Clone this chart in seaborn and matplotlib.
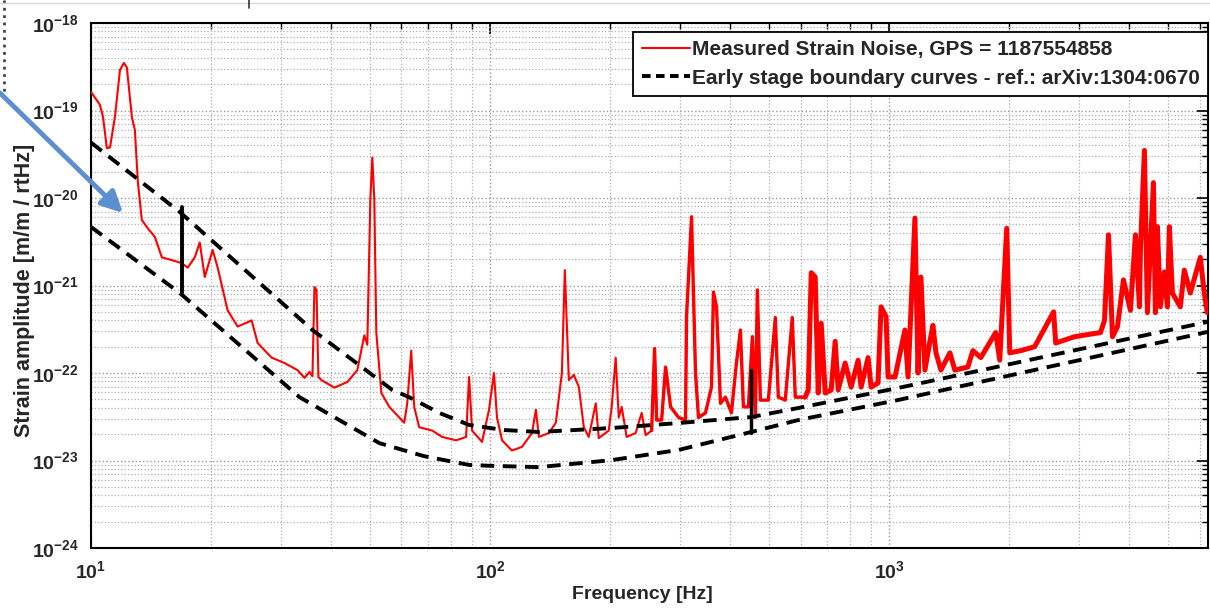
import numpy as np
import pandas as pd
import matplotlib
matplotlib.use("Agg")
import matplotlib.pyplot as plt
from matplotlib.lines import Line2D
from matplotlib.ticker import LogLocator, FixedLocator, FixedFormatter, NullFormatter
import seaborn as sns

# measured strain noise (Hz, strain/rtHz)
noise_freq = [
    10.0, 10.53, 10.72, 10.96, 11.16, 11.48, 11.82, 12.09, 12.30, 12.66,
    12.88, 13.11, 13.41, 13.88, 14.45, 15.05, 15.94, 16.89, 17.48, 18.20,
    18.73, 19.28, 20.18, 20.77, 22.00, 23.31, 24.69, 25.26, 26.16, 28.35,
    30.55, 32.92, 34.28, 35.28, 35.89, 36.31, 36.73, 37.15, 37.80, 40.74,
    43.90, 46.50, 48.42, 49.26, 50.12, 50.70, 51.29, 51.88, 53.42, 55.93,
    59.23, 60.95, 62.02, 63.46, 64.57, 66.45, 71.61, 75.86, 82.22, 87.10,
    88.62, 90.16, 95.50, 99.42, 102.3, 104.1, 107.2, 113.5, 120.2, 127.4,
    130.3, 132.6, 140.4, 146.2, 151.4, 154.0, 157.6, 162.2, 167.0, 171.8,
    176.8, 184.1, 187.3, 198.4, 201.8, 206.5, 210.2, 213.8, 220.0, 231.7,
    239.9, 245.5, 254.1, 258.5, 261.6, 269.2, 275.4, 283.5, 296.9, 309.0,
    310.8, 319.9, 327.3, 333.0, 346.7, 358.9, 363.1, 369.5, 378.1, 389.0,
    402.7, 414.5, 424.2, 431.5, 444.1, 454.5, 462.4, 467.7, 476.0, 498.4,
    518.8, 527.8, 549.5, 572.1, 582.1, 616.6, 627.3, 638.3, 653.1, 664.5,
    676.1, 691.8, 716.1, 732.8, 745.6, 776.2, 803.5, 836.6, 851.1, 886.1,
    901.6, 938.5, 955.0, 983.0, 994.3, 1035, 1096, 1116, 1161, 1182,
    1202, 1230, 1266, 1288, 1311, 1349, 1421, 1462, 1576, 1622,
    1698, 1851, 1894, 1972, 2007, 2138, 2317, 2585, 2616, 2917,
    3388, 3467, 3548, 3631, 3737, 3868, 4027, 4145, 4242, 4266,
    4365, 4441, 4598, 4651, 4705, 4786, 4898, 4983, 5041, 5129,
    5370, 5495, 5689, 6026, 6166, 6273,
]
noise_amp = [
    1.63e-19, 1.16e-19, 8.4e-20, 3.7e-20, 3.8e-20, 8.4e-20, 2.9e-19, 3.5e-19, 3.1e-19, 8.4e-20,
    6.0e-20, 1.5e-20, 5.6e-21, 4.5e-21, 3.6e-21, 2.1e-21, 1.95e-21, 1.8e-21, 1.6e-21, 2.1e-21,
    3.1e-21, 1.25e-21, 2.55e-21, 1.6e-21, 5.2e-22, 3.4e-22, 3.8e-22, 4.0e-22, 2.2e-22, 1.5e-22,
    1.3e-22, 1.08e-22, 8.8e-23, 1.03e-22, 9.2e-23, 9.6e-22, 8.9e-22, 9.0e-23, 8.3e-23, 6.8e-23,
    7.9e-23, 1.08e-22, 2.7e-22, 2.1e-22, 9.5e-21, 2.9e-20, 9.5e-21, 2.9e-22, 5.9e-23, 4.1e-23,
    3.1e-23, 2.7e-23, 4.5e-23, 1.8e-22, 4.1e-23, 2.4e-23, 2.2e-23, 1.86e-23, 1.7e-23, 1.86e-23,
    9.0e-23, 2.2e-23, 1.63e-23, 3.8e-23, 1.0e-22, 3.1e-23, 1.7e-23, 1.3e-23, 1.43e-23, 2.06e-23,
    3.8e-23, 1.86e-23, 2.06e-23, 2.7e-23, 1.0e-22, 1.5e-21, 8.3e-23, 9.5e-23, 6.9e-23, 2.4e-23,
    1.86e-23, 4.5e-23, 1.8e-23, 2.2e-23, 4.1e-23, 1.5e-22, 3.1e-23, 4.1e-23, 1.86e-23, 2.06e-23,
    3.5e-23, 1.95e-23, 2.2e-23, 1.9e-22, 2.9e-23, 2.9e-23, 1.17e-22, 4.1e-23, 3.1e-23, 2.9e-23,
    4.4e-22, 6.1e-21, 1.0e-22, 3.1e-23, 3.5e-23, 6.9e-23, 8.4e-22, 5.7e-22, 4.5e-23, 5.3e-23,
    3.5e-23, 1.3e-22, 3.1e-22, 4.1e-23, 4.1e-23, 2.6e-22, 3.1e-23, 8.9e-22, 4.9e-23, 4.9e-23,
    4.3e-22, 5.3e-23, 4.9e-23, 4.3e-22, 5.3e-23, 5.3e-23, 6.4e-23, 1.4e-21, 1.25e-21, 5.9e-23,
    3.7e-22, 5.9e-23, 6.4e-23, 2.3e-22, 6.4e-23, 1.3e-22, 6.9e-23, 1.4e-22, 6.9e-23, 1.5e-22,
    6.9e-23, 7.7e-23, 5.7e-22, 4.4e-22, 9.0e-23, 9.0e-23, 3.1e-22, 9.0e-23, 5.9e-21, 1.0e-22,
    1.25e-21, 1.08e-22, 2.3e-22, 3.5e-22, 1.7e-22, 1.08e-22, 1.7e-22, 1.08e-22, 1.17e-22, 1.8e-22,
    1.5e-22, 2.9e-22, 1.4e-22, 4.5e-21, 1.7e-22, 1.8e-22, 2.0e-22, 5.0e-22, 2.2e-22, 2.6e-22,
    2.9e-22, 4.0e-22, 3.8e-21, 2.6e-22, 3.4e-22, 1.16e-21, 5.2e-22, 3.8e-21, 5.7e-22, 2.55e-21,
    3.5e-20, 4.9e-22, 1.5e-20, 4.9e-22, 4.7e-21, 5.7e-22, 1.43e-21, 5.7e-22, 4.7e-21, 8.2e-22,
    5.7e-22, 1.5e-21, 8.2e-22, 2.1e-21, 8.2e-22, 4.9e-22,
]

# early stage boundary curves
upper_freq = [10, 16.7, 35.9, 56.9, 62.7, 74.6, 88.6, 108.4, 132.6, 201.8, 296.9, 451.9, 592, 1053, 6273]
upper_amp = [4.3e-20, 6.9e-21, 3.1e-22, 6.4e-23, 5.3e-23, 3.5e-23, 2.55e-23, 2.23e-23, 2.12e-23,
             2.35e-23, 2.68e-23, 3.14e-23, 3.98e-23, 6.74e-23, 3.83e-22]
lower_freq = [10, 16.7, 33.3, 52.8, 68.4, 88.6, 100, 132.6, 201.8, 296.9, 451.9, 592, 1053, 6273]
lower_amp = [4.67e-21, 8.2e-22, 5.3e-23, 1.58e-23, 1.12e-23, 8.9e-24, 8.7e-24, 8.4e-24, 1.01e-23,
             1.32e-23, 2.12e-23, 2.9e-23, 4.91e-23, 2.94e-22]
# the two vertical joins
join1_freq = [16.9, 16.9]
join1_amp = [7.9e-21, 8.2e-22]
join2_freq = [452, 452]
join2_amp = [1.08e-22, 2.06e-23]

xticks = [10, 100, 1000]
xtick_labels = [r'$\mathbf{10^{1}}$', r'$\mathbf{10^{2}}$', r'$\mathbf{10^{3}}$']
yticks = [1e-24, 1e-23, 1e-22, 1e-21, 1e-20, 1e-19, 1e-18]
ytick_labels = [r'$\mathbf{10^{-24}}$', r'$\mathbf{10^{-23}}$', r'$\mathbf{10^{-22}}$', r'$\mathbf{10^{-21}}$',
                r'$\mathbf{10^{-20}}$', r'$\mathbf{10^{-19}}$', r'$\mathbf{10^{-18}}$']

sns.set_style("white")
plt.rcParams['font.family'] = ['Liberation Sans', 'DejaVu Sans']
plt.rcParams['font.weight'] = 'bold'
plt.rcParams['mathtext.fontset'] = 'custom'
plt.rcParams['mathtext.rm'] = 'Liberation Sans:bold'
plt.rcParams['mathtext.bf'] = 'Liberation Sans:bold'

noise_df = pd.DataFrame({'freq': noise_freq, 'amp': noise_amp})

fig = plt.figure(figsize=(12.1, 6.09), dpi=100)
ax = fig.add_axes([91 / 1210, 1 - 548 / 609, (1208 - 91) / 1210, (548 - 23) / 609])

sns.lineplot(data=noise_df, x='freq', y='amp', sort=False, estimator=None,
             color='#ff0000', lw=1.5, ax=ax, zorder=3)
# the high-frequency part is a dense noisy band, so draw it heavier
sns.lineplot(data=noise_df[noise_df['freq'] >= 250], x='freq', y='amp', sort=False,
             estimator=None, color='#ff0000', lw=2.4, ax=ax, zorder=3)
sns.lineplot(data=noise_df[noise_df['freq'] >= 600], x='freq', y='amp', sort=False,
             estimator=None, color='#ff0000', lw=3.6, ax=ax, zorder=3)

dash = (3.5, 2.2)
ax.plot(upper_freq, upper_amp, color='black', lw=2.8, dashes=dash, zorder=4)
ax.plot(lower_freq, lower_amp, color='black', lw=2.8, dashes=dash, zorder=4)
ax.plot(join1_freq, join1_amp, color='black', lw=2.8, zorder=4)
ax.plot(join2_freq, join2_amp, color='black', lw=2.5, zorder=4)

ax.set_xscale('log')
ax.set_yscale('log')
ax.set_xlim(10, 6300)
ax.set_ylim(1e-24, 1e-18)

ax.xaxis.set_major_locator(FixedLocator(xticks))
ax.xaxis.set_major_formatter(FixedFormatter(xtick_labels))
ax.xaxis.set_minor_locator(LogLocator(base=10, subs=np.arange(2, 10), numticks=20))
ax.xaxis.set_minor_formatter(NullFormatter())
ax.yaxis.set_major_locator(FixedLocator(yticks))
ax.yaxis.set_major_formatter(FixedFormatter(ytick_labels))
ax.yaxis.set_minor_locator(LogLocator(base=10, subs=np.arange(2, 10), numticks=20))
ax.yaxis.set_minor_formatter(NullFormatter())

ax.tick_params(which='both', direction='in', top=True, right=True, color='black')
ax.tick_params(which='major', length=8, width=1.2, labelsize=14, pad=9)
ax.tick_params(which='minor', length=4, width=1.0)

ax.grid(True, which='major', ls=':', color='#9a9a9a', lw=1.0)
ax.grid(True, which='minor', ls=':', color='#b0b0b0', lw=0.9)
for s in ax.spines.values():
    s.set_color('black')
    s.set_linewidth(1.5)

ax.set_xlabel('Frequency [Hz]', fontsize=14, fontweight='bold')
ax.set_ylabel('Strain amplitude [m/m / rtHz]', fontsize=15.5, fontweight='bold')
ax.xaxis.set_label_coords(0.494, -0.072)
ax.yaxis.set_label_coords(-0.050, 0.49)

handles = [Line2D([], [], color='#ff0000', lw=1.5),
           Line2D([], [], color='black', lw=2.8, dashes=(2.2, 1.4))]
leg = ax.legend(handles, ['Measured Strain Noise, GPS = 1187554858',
                          'Early stage boundary curves - ref.: arXiv:1304:0670'],
                loc='upper right', bbox_to_anchor=(1208 / 1210, 1 - 32 / 609),
                bbox_transform=fig.transFigure, borderaxespad=0, fancybox=False,
                framealpha=1, edgecolor='black', prop={'size': 15, 'weight': 'bold'},
                handlelength=2.3, handletextpad=0.1, borderpad=0.4, labelspacing=0.45)
leg.get_frame().set_linewidth(1.3)

# annotation arrow coming in from the left edge
ax.annotate('', xy=(123 / 1210, 1 - 213 / 609), xycoords='figure fraction',
            xytext=(0, 1 - 93 / 609), textcoords='figure fraction',
            arrowprops=dict(arrowstyle='-|>', color='#5b8fd0', lw=3.5,
                            mutation_scale=32, shrinkA=0, shrinkB=0),
            annotation_clip=False, zorder=10)
# bits of the cropped screenshot around the chart
fig.add_artist(Line2D([0.003, 0.003], [1, 1 - 95 / 609], ls=':', color='#444', lw=2))
fig.add_artist(Line2D([0, 1], [1 - 3 / 609, 1 - 3 / 609], color='#d8d8d8', lw=1))
fig.add_artist(Line2D([249 / 1210, 249 / 1210], [1, 1 - 8 / 609], color='#333', lw=1.2))

fig.savefig('out.png', dpi=100, facecolor='white')
